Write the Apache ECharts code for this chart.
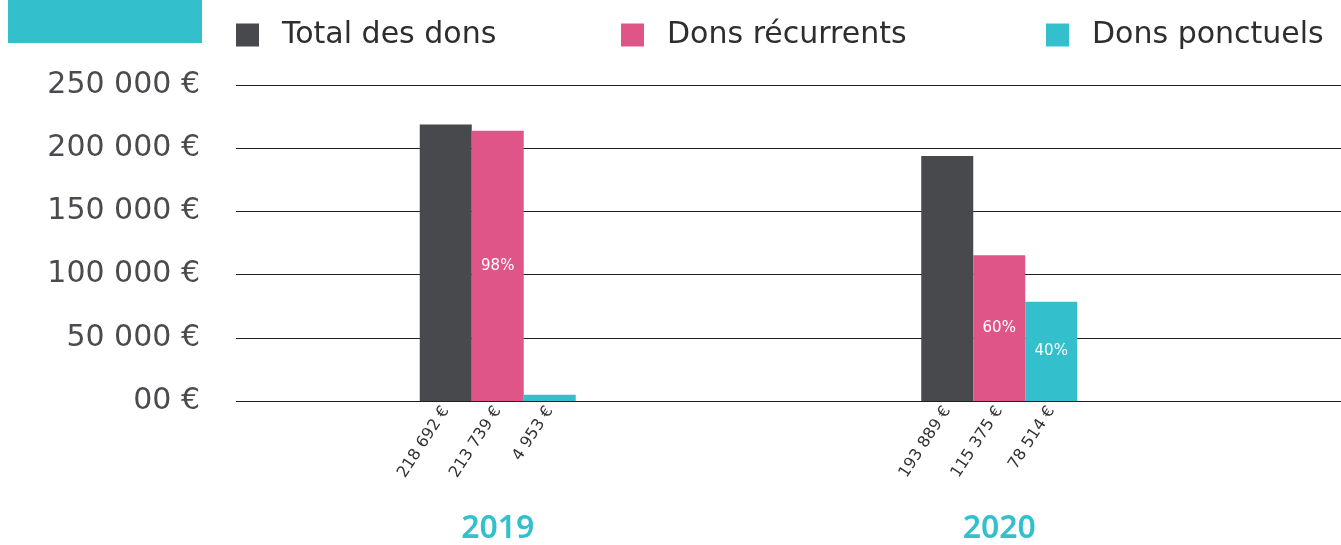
<!DOCTYPE html>
<html>
<head>
<meta charset="utf-8">
<script src="https://cdn.jsdelivr.net/npm/echarts@6/dist/echarts.min.js"></script>
<style>
  html, body { margin: 0; padding: 0; background: #fff; }
  #main { width: 1341px; height: 545px; }
</style>
</head>
<body>
<div id="main"></div>
<script>
// données
const categories = ['2019', '2020'];
const totalDons = [218692, 193889];
const donsRecurrents = [213739, 115375];
const donsPonctuels = [4953, 78514];
const pctRecurrents = ['98%', '60%'];
const pctPonctuels = ['', '40%'];
const yTicks = [0, 50000, 100000, 150000, 200000, 250000];

const DARK = '#48494d';
const PINK = '#e05587';
const TEAL = '#33bfcc';
const FONT = '"DejaVu Sans", sans-serif';

function euro(v) {
  if (v === 0) return '00 €';
  return String(v).replace(/\B(?=(\d{3})+(?!\d))/g, ' ') + ' €';
}

// étiquette de valeur sous chaque barre, en biais
const valueLabel = {
  show: true,
  position: 'bottom',
  distance: 7,
  rotate: 57,
  align: 'right',
  verticalAlign: 'middle',
  fontFamily: FONT,
  fontSize: 16,
  color: '#333',
  formatter: p => euro(p.value)
};

function legendItem(name, left) {
  return {
    data: [name],
    left: left,
    top: 15,
    icon: 'rect',
    itemWidth: 23,
    itemHeight: 23,
    selectedMode: false,
    textStyle: {
      fontFamily: FONT,
      fontSize: 30,
      color: '#2e2e30',
      padding: [0, 0, 0, 18]
    }
  };
}

function pctSeries(name, values, labels) {
  return {
    name: name,
    type: 'bar',
    xAxisIndex: 1,
    yAxisIndex: 0,
    barWidth: 52,
    barGap: '0%',
    silent: true,
    itemStyle: { color: 'rgba(0,0,0,0)' },
    label: {
      show: true,
      position: 'inside',
      fontFamily: FONT,
      fontSize: 15,
      color: '#fff',
      formatter: p => labels[p.dataIndex] || ''
    },
    data: values
  };
}

var myChart = echarts.init(document.getElementById('main'));
var option = {
  animation: false,
  graphic: [{
    type: 'rect',
    shape: { x: 8, y: 0, width: 194, height: 43 },
    style: { fill: TEAL }
  }],
  legend: [
    legendItem('Total des dons', 231),
    legendItem('Dons récurrents', 616),
    legendItem('Dons ponctuels', 1041)
  ],
  grid: [
    // grille des barres
    { left: 247, right: 91, top: 85, bottom: 144 },
    // grille des lignes horizontales
    { left: 236, right: 0, top: 85, bottom: 144 }
  ],
  xAxis: [
    {
      type: 'category',
      gridIndex: 0,
      data: categories,
      axisLine: { show: false },
      axisTick: { show: false },
      axisLabel: {
        margin: 112,
        fontFamily: '"Noto Sans", sans-serif',
        fontSize: 32,
        fontWeight: 600,
        color: TEAL
      }
    },
    {
      type: 'category',
      gridIndex: 0,
      data: categories,
      show: false
    },
    {
      type: 'category',
      gridIndex: 1,
      data: categories,
      show: false
    }
  ],
  yAxis: [
    {
      type: 'value',
      gridIndex: 0,
      min: 0,
      max: 250000,
      interval: 50000,
      show: false,
      splitLine: { show: false }
    },
    {
      type: 'value',
      gridIndex: 1,
      min: 0,
      max: 250000,
      interval: 50000,
      axisLine: { show: false },
      axisTick: { show: false },
      splitLine: { lineStyle: { color: '#1f1f1f', width: 1.2 } },
      axisLabel: {
        margin: 36,
        padding: [5, 0, 0, 0],
        fontFamily: FONT,
        fontSize: 30,
        color: '#4a4a4f',
        formatter: v => yTicks.indexOf(v) >= 0 ? euro(v) : ''
      }
    }
  ],
  series: [
    {
      name: 'Total des dons',
      type: 'bar',
      xAxisIndex: 0,
      yAxisIndex: 0,
      barWidth: 52,
      barGap: '0%',
      itemStyle: { color: DARK },
      label: valueLabel,
      data: totalDons
    },
    {
      name: 'Dons récurrents',
      type: 'bar',
      xAxisIndex: 0,
      yAxisIndex: 0,
      barWidth: 52,
      barGap: '0%',
      itemStyle: { color: PINK },
      label: valueLabel,
      data: donsRecurrents
    },
    {
      name: 'Dons ponctuels',
      type: 'bar',
      xAxisIndex: 0,
      yAxisIndex: 0,
      barWidth: 52,
      barGap: '0%',
      itemStyle: { color: TEAL },
      label: valueLabel,
      data: donsPonctuels
    },
    pctSeries('_total', totalDons, []),
    pctSeries('_rec', donsRecurrents, pctRecurrents),
    pctSeries('_pon', donsPonctuels, pctPonctuels),
    {
      // série vide pour porter l'axe de la grille des lignes
      type: 'line',
      xAxisIndex: 2,
      yAxisIndex: 1,
      silent: true,
      showSymbol: false,
      data: []
    }
  ]
};
option && myChart.setOption(option);
</script>
</body>
</html>
